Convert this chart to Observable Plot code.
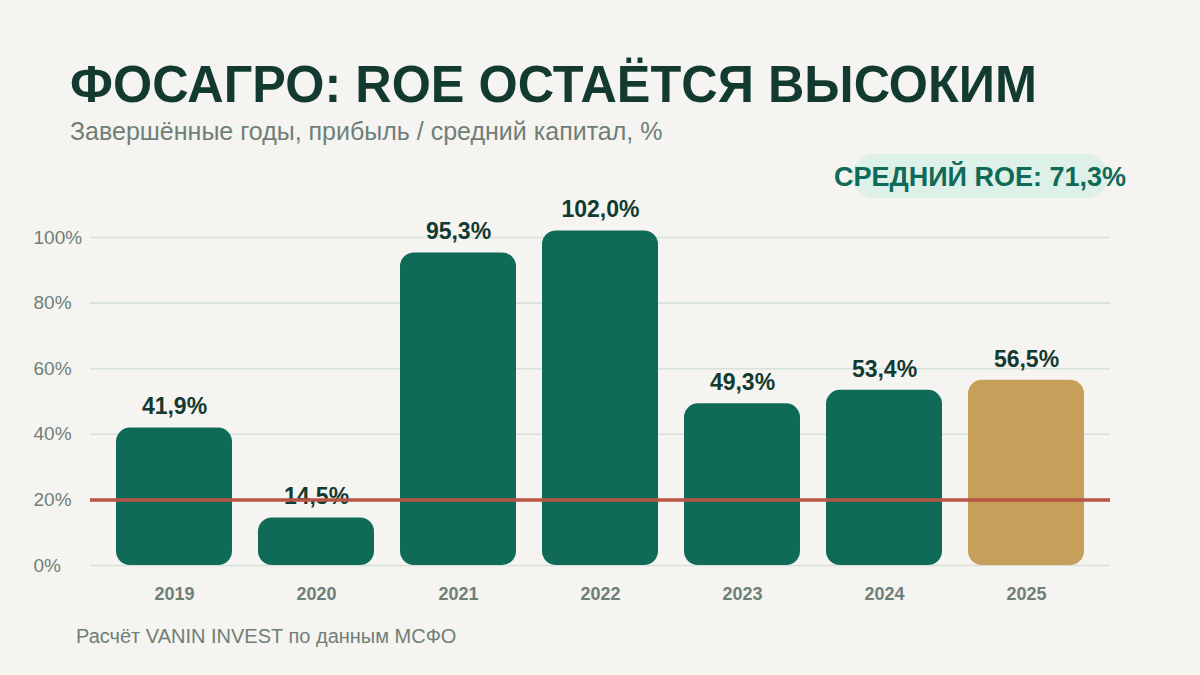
<!DOCTYPE html>
<html><head><meta charset="utf-8">
<script src="https://cdn.jsdelivr.net/npm/d3@7"></script>
<script src="https://cdn.jsdelivr.net/npm/@observablehq/plot@0.6"></script>
<style>
html,body{margin:0;padding:0;background:#F5F4F0;width:1200px;height:675px;overflow:hidden;font-family:"Liberation Sans",Arial,sans-serif;}
#wrap{position:relative;width:1200px;height:675px;}
.abs{position:absolute;white-space:nowrap;line-height:1;}
#title{left:70px;top:58px;font-size:52px;font-weight:700;color:#133A30;transform-origin:0 0;}
#subtitle{left:70px;top:119px;font-size:25px;color:#6F7F78;}
#pill{left:852px;top:154px;width:256px;height:44px;border-radius:22px;background:#DDF1E8;}
#badge{left:980px;top:164px;font-size:27px;font-weight:700;color:#0F6B58;transform:translateX(-50%);}
#footer{left:76px;top:626px;font-size:20px;color:#6F7F78;}
#chart{position:absolute;left:0;top:140px;}
</style></head>
<body><div id="wrap">
<div id="title" class="abs"></div>
<div id="subtitle" class="abs"></div>
<div id="pill" class="abs"></div>
<div id="badge" class="abs"></div>
<div id="chart"></div>
<div id="footer" class="abs"></div>
</div>
<script>
const titleText = "ФОСАГРО: ROE ОСТАЁТСЯ ВЫСОКИМ";
const subtitleText = "Завершённые годы, прибыль / средний капитал, %";
const badgeText = "СРЕДНИЙ ROE: 71,3%";
const footerText = "Расчёт VANIN INVEST по данным МСФО";

const years = ["2019", "2020", "2021", "2022", "2023", "2024", "2025"];
const roe = [41.9, 14.5, 95.3, 102.0, 49.3, 53.4, 56.5];
const highlightYear = "2025";
const yTicks = [0, 20, 40, 60, 80, 100];
const threshold = 20;

const data = years.map((year, i) => ({year, roe: roe[i]}));
const fmt = v => v.toFixed(1).replace(".", ",") + "%";

document.getElementById("title").textContent = titleText;
document.getElementById("subtitle").textContent = subtitleText;
document.getElementById("badge").textContent = badgeText;
document.getElementById("footer").textContent = footerText;

const chart = Plot.plot({
  width: 1200,
  height: 480,
  marginLeft: 90,
  marginRight: 90,
  marginTop: 97,
  marginBottom: 55,
  style: {background: "transparent", fontFamily: "'Liberation Sans', Arial, sans-serif"},
  x: {domain: years, padding: 0.18},
  y: {domain: [0, 100], axis: null},
  color: {type: "identity"},
  marks: [
    Plot.ruleY(yTicks, {stroke: "#D6E1DC", strokeWidth: 1.6}),
    Plot.barY(data, {x: "year", y: "roe", fill: d => d.year === highlightYear ? "#C89E5B" : "#0F6B58", rx: 14}),
    Plot.text(data, {x: "year", y: "roe", text: d => fmt(d.roe), dy: -21, fontSize: 23, fontWeight: 700, fill: "#133A30"}),
    Plot.ruleY([threshold], {stroke: "#B85545", strokeWidth: 3.5}),
    Plot.text(yTicks, {y: d => d, text: d => d + "%", frameAnchor: "left", dx: -57, textAnchor: "start", fontSize: 19, fill: "#6F7F78"}),
    Plot.axisX({tickSize: 0, tickPadding: 22, fontSize: 18, fontWeight: 700, color: "#6F7F78", label: null})
  ]
});
document.getElementById("chart").appendChild(chart);

const t = document.getElementById("title");
const w = t.getBoundingClientRect().width;
t.style.transform = "scaleX(" + (967 / w) + ")";
</script>
</body></html>
